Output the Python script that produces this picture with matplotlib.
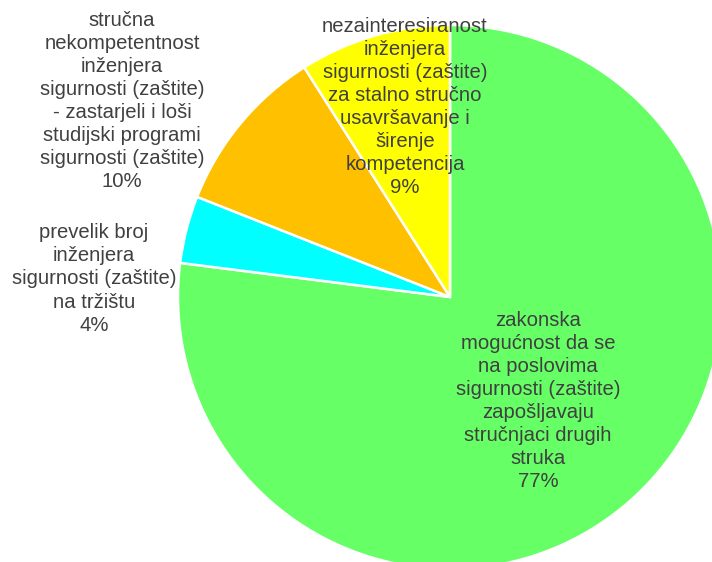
import matplotlib.pyplot as plt
import numpy as np

labels = [
    'zakonska\nmogućnost da se\nna poslovima\nsigurnosti (zaštite)\nzapošljavaju\nstručnjaci drugih\nstruka',
    'prevelik broj\ninženjera\nsigurnosti (zaštite)\nna tržištu',
    'stručna\nnekompetentnost\ninženjera\nsigurnosti (zaštite)\n- zastarjeli i loši\nstudijski programi\nsigurnosti (zaštite)',
    'nezainteresiranost\ninženjera\nsigurnosti (zaštite)\nza stalno stručno\nusavršavanje i\nširenje\nkompetencija',
]
values = [77, 4, 10, 9]
colors = ['#66ff66', '#00ffff', '#ffc000', '#ffff00']

# label centres in pixel coords (y from top)
label_pos = [(538, 401), (94, 279), (122, 101), (405, 107)]

plt.rcParams['font.family'] = ['Liberation Sans', 'DejaVu Sans']

fig = plt.figure(figsize=(7.12, 5.62), dpi=100)
ax = fig.add_axes([0, 0, 1, 1])

cx, cy, r = 450, 562 - 297, 272
ax.pie(values, colors=colors, startangle=90, counterclock=False,
       center=(cx, cy), radius=r, frame=True,
       wedgeprops=dict(edgecolor='white', linewidth=1.8))
ax.set_xlim(0, 712)
ax.set_ylim(0, 562)
ax.set_aspect('equal')
ax.axis('off')

for lab, v, (x, y) in zip(labels, values, label_pos):
    ax.text(x, 562 - y, f'{lab}\n{v}%', ha='center', va='center',
            fontsize=14.6, color='#404040', linespacing=1.27)

fig.savefig('out.png', dpi=100)
